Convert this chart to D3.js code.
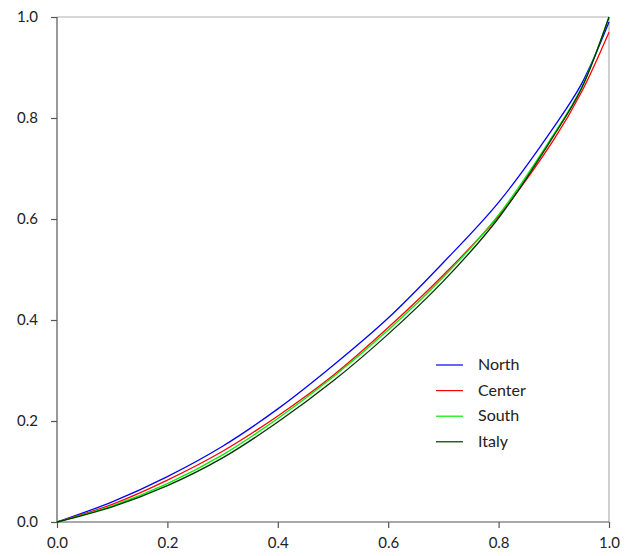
<!DOCTYPE html>
<html>
<head>
<meta charset="utf-8">
<script src="https://cdn.jsdelivr.net/npm/d3@7"></script>
<style>
  body { margin: 0; background: #fff; }
  .tick text { font-family: Lato, "Noto Sans", sans-serif; font-size: 15px; fill: #222; }
  .legend text { font-family: Lato, "Noto Sans", sans-serif; font-size: 16px; fill: #222; }
</style>
</head>
<body>
<div id="chart"></div>
<script>
// population share (x) and cumulative share (y)
var xs      = [0, 0.1, 0.2, 0.3, 0.4, 0.5, 0.6, 0.7, 0.8, 0.9, 0.95, 1.0];
var north   = [0, 0.040, 0.090, 0.150, 0.224, 0.310, 0.404, 0.514, 0.633, 0.782, 0.867, 0.990];
var center  = [0, 0.035, 0.083, 0.140, 0.210, 0.290, 0.385, 0.489, 0.606, 0.757, 0.851, 0.970];
var south   = [0, 0.032, 0.076, 0.133, 0.205, 0.287, 0.380, 0.485, 0.608, 0.768, 0.860, 1.000];
var italy   = [0, 0.030, 0.072, 0.127, 0.198, 0.279, 0.372, 0.477, 0.602, 0.765, 0.858, 1.000];
var names   = ["North", "Center", "South", "Italy"];
var colors  = ["#0000ff", "#ff0000", "#00ee00", "#003300"];
var tickVals = [0, 0.2, 0.4, 0.6, 0.8, 1.0];

var series = [north, center, south, italy];

var width = 639, height = 556;
var margin = {top: 17, right: 30, bottom: 34, left: 57};

var svg = d3.select("#chart").append("svg")
    .attr("width", width)
    .attr("height", height);

var x = d3.scaleLinear().domain([0, 1]).range([margin.left, width - margin.right]);
var y = d3.scaleLinear().domain([0, 1]).range([height - margin.bottom, margin.top]);

// light frame on top and right
svg.append("line")
    .attr("x1", x(0)).attr("x2", x(1))
    .attr("y1", y(1)).attr("y2", y(1))
    .attr("stroke", "#b0b0b0").attr("stroke-width", 1.2);
svg.append("line")
    .attr("x1", x(1)).attr("x2", x(1))
    .attr("y1", y(1)).attr("y2", y(0))
    .attr("stroke", "#b0b0b0").attr("stroke-width", 1.2);

var xAxis = svg.append("g")
    .attr("transform", "translate(0," + y(0) + ")")
    .call(d3.axisBottom(x).tickValues(tickVals).tickFormat(d3.format(".1f")).tickSize(6).tickPadding(9));
var yAxis = svg.append("g")
    .attr("transform", "translate(" + x(0) + ",0)")
    .call(d3.axisLeft(y).tickValues(tickVals).tickFormat(d3.format(".1f")).tickSize(6).tickPadding(13));

svg.selectAll(".domain").attr("stroke", "#555").attr("stroke-width", 1.2);
svg.selectAll(".tick line").attr("stroke", "#555").attr("stroke-width", 1.2);
xAxis.selectAll(".domain").attr("d", "M" + x(0) + ",0H" + x(1));
yAxis.selectAll(".domain").attr("d", "M0," + y(0) + "V" + y(1));

var line = d3.line()
    .x(function(d, i){ return x(xs[i]); })
    .y(function(d){ return y(d); })
    .curve(d3.curveCatmullRom);

svg.selectAll(".curve")
    .data(series)
    .enter()
    .append("path")
    .attr("class", "curve")
    .attr("fill", "none")
    .attr("stroke", function(d, i){ return colors[i]; })
    .attr("stroke-width", 1.3)
    .attr("d", line);

var legend = svg.append("g").attr("class", "legend");
var rows = legend.selectAll("g")
    .data(names)
    .enter()
    .append("g")
    .attr("transform", function(d, i){ return "translate(436," + (365 + i * 25.6) + ")"; });
rows.append("line")
    .attr("x1", 0).attr("x2", 27)
    .attr("y1", 0).attr("y2", 0)
    .attr("stroke", function(d, i){ return colors[i]; })
    .attr("stroke-width", 1.2);
rows.append("text")
    .attr("x", 42)
    .attr("y", 5)
    .text(function(d){ return d; });
</script>
</body>
</html>
